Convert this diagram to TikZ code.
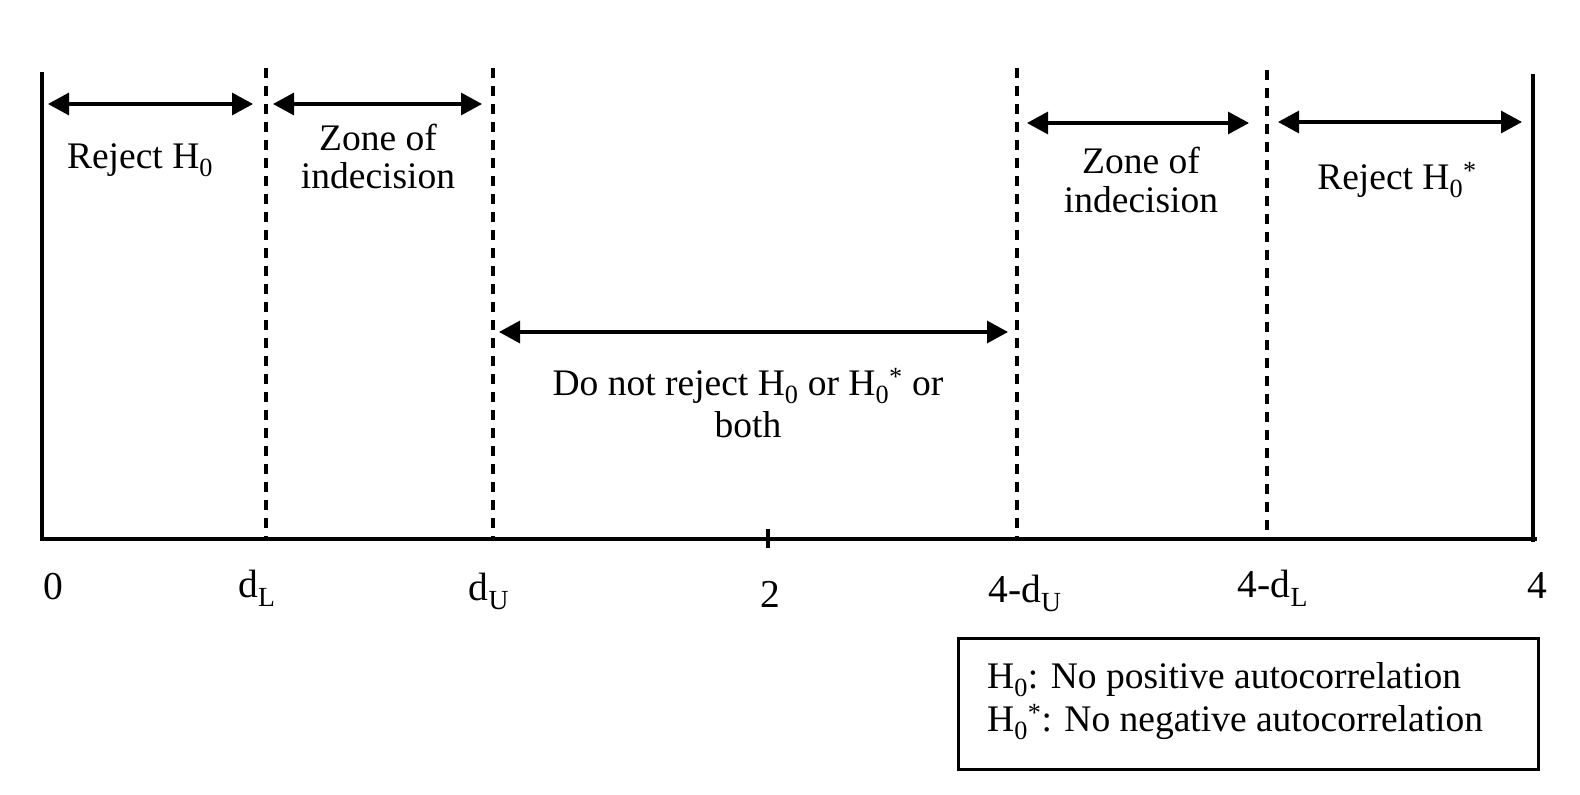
\documentclass[tikz,border=0pt]{standalone}
\usepackage{fontspec}
\setmainfont{Liberation Serif}
\usetikzlibrary{arrows.meta}
\begin{document}
\begin{tikzpicture}[x=1pt,y=-1pt,
  txt/.style={inner sep=0pt, anchor=base, font=\fontsize{37.5}{40}\selectfont},
  axlab/.style={inner sep=0pt, anchor=base, font=\fontsize{39.5}{42}\selectfont},
  solidline/.style={line width=3.2pt},
  dashline/.style={line width=3.2pt, dash pattern=on 10pt off 8pt},
  rangearrow/.style={line width=3.2pt, {Triangle[length=21pt,width=22pt]}-{Triangle[length=21pt,width=22pt]}},
]
\useasboundingbox (0,0) rectangle (1580,795);
% frame coordinates
\coordinate (ltop) at (42,72);
\coordinate (lbot) at (42,539);
\coordinate (axend) at (1537,539);
\coordinate (rtop) at (1533,74);
\coordinate (rbot) at (1533,542);
\coordinate (dLtop) at (266,68);   \coordinate (dLbot) at (266,539);
\coordinate (dUtop) at (493,68);   \coordinate (dUbot) at (493,539);
\coordinate (fdUtop) at (1017,68); \coordinate (fdUbot) at (1017,539);
\coordinate (fdLtop) at (1267,70); \coordinate (fdLbot) at (1267,539);
\coordinate (ticktop) at (768,529); \coordinate (tickbot) at (768,548);
% arrow ends
\coordinate (a1s) at (48,104);   \coordinate (a1e) at (253,104);
\coordinate (a2s) at (273,104);  \coordinate (a2e) at (482,104);
\coordinate (a3s) at (1027,123); \coordinate (a3e) at (1249,123);
\coordinate (a4s) at (1278,122); \coordinate (a4e) at (1522,122);
\coordinate (a5s) at (499,332);  \coordinate (a5e) at (1008,332);

\draw[solidline] (ltop) -- (lbot) -- (axend);
\draw[solidline] (rtop) -- (rbot);
\draw[solidline] (ticktop) -- (tickbot);
\draw[dashline] (dLtop) -- (dLbot);
\draw[dashline] (dUtop) -- (dUbot);
\draw[dashline] (fdUtop) -- (fdUbot);
\draw[dashline] (fdLtop) -- (fdLbot);

\draw[rangearrow] (a1s) -- (a1e);
\draw[rangearrow] (a2s) -- (a2e);
\draw[rangearrow] (a3s) -- (a3e);
\draw[rangearrow] (a4s) -- (a4e);
\draw[rangearrow] (a5s) -- (a5e);

% region labels
\node[txt] (rej) at (140,168) {Reject H\textsubscript{0}};
\node[txt] (zoneLa) at (378,150) {Zone of};
\node[txt] (zoneLb) at (378,188) {indecision};
\node[txt] (zoneRa) at (1141,173) {Zone of};
\node[txt] (zoneRb) at (1141,212) {indecision};
\node[txt] (rejs) at (1397,189) {Reject H\textsubscript{0}\textsuperscript{*}};
\node[txt] (dnra) at (748,395) {Do not reject H\textsubscript{0} or H\textsubscript{0}\textsuperscript{*} or};
\node[txt] (dnrb) at (748,437) {both};

% axis labels
\node[axlab] (l0) at (53,599) {0};
\node[axlab] (ldL) at (257,597) {d\textsubscript{L}};
\node[axlab] (ldU) at (489,600) {d\textsubscript{U}};
\node[axlab] (l2) at (770,607) {2};
\node[axlab] (lfdU) at (1025,602) {4-d\textsubscript{U}};
\node[axlab] (lfdL) at (1273,597) {4-d\textsubscript{L}};
\node[axlab] (l4) at (1537,598) {4};

% legend
\node[draw, line width=2.8pt, anchor=north west, inner sep=0pt,
      minimum width=580pt, minimum height=131pt] (legend) at (957,637) {};
\node[txt, anchor=base west] (leg1) at (987,688) {H\textsubscript{0}: No positive autocorrelation};
\node[txt, anchor=base west] (leg2) at (987,731) {H\textsubscript{0}\textsuperscript{*}: No negative autocorrelation};
\end{tikzpicture}
\end{document}
